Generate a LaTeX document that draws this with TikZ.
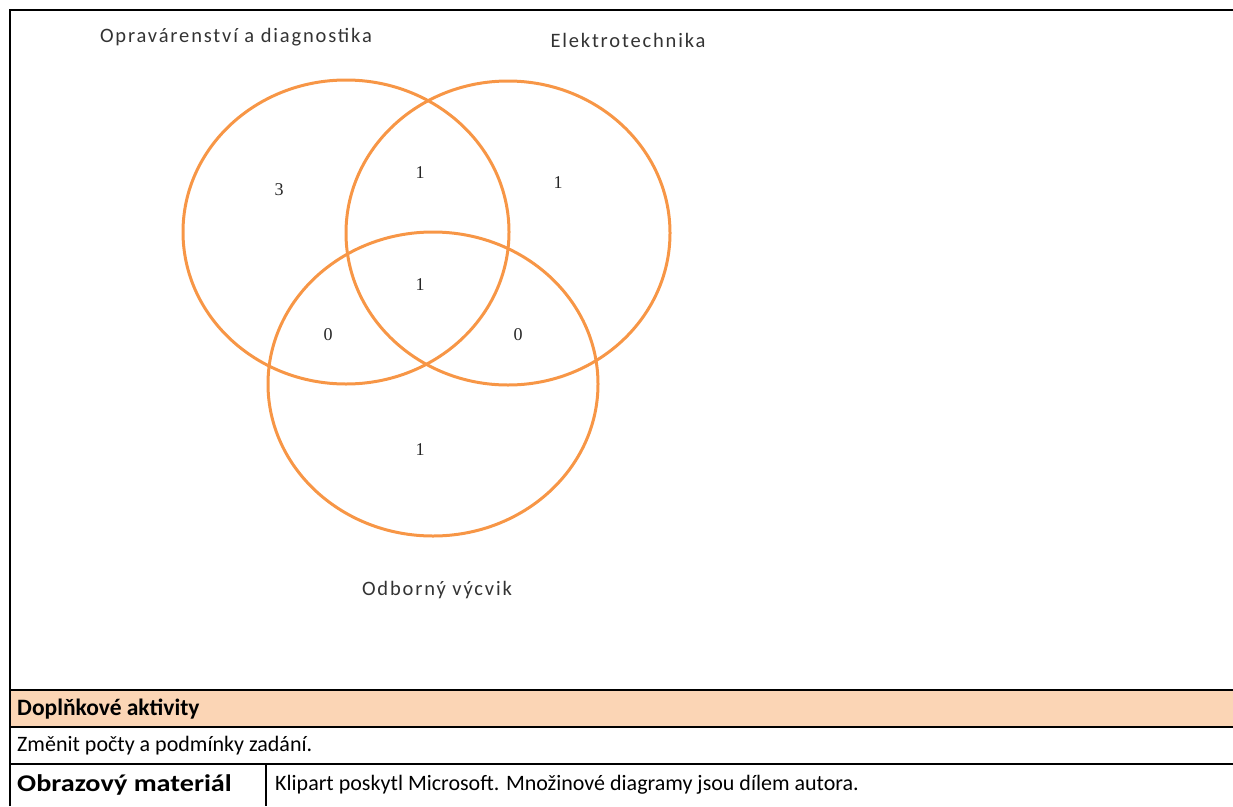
\documentclass[tikz,border=0pt]{standalone}
\usepackage{fontspec}
\usepackage{graphicx}
\setmainfont{Carlito}
\newfontfamily\vennfont[LetterSpace=9]{Carlito}
\newfontfamily\numfont{Liberation Serif}
\usetikzlibrary{positioning}
\definecolor{vorange}{HTML}{F79646}
\definecolor{rowfill}{HTML}{FBD5B5}
\tikzset{
  vcircle/.style={draw=vorange, line width=3pt},
  vlabel/.style={inner sep=0pt, font=\vennfont\fontsize{20.5}{24}\selectfont, text=black!80},
  vnum/.style={inner sep=0pt, font=\numfont\fontsize{18}{21}\selectfont, text=black!85},
  tline/.style={draw=black, line width=2.5pt},
  ttext/.style={inner sep=0pt, anchor=west, font=\fontsize{22}{26}\selectfont},
  tbold/.style={ttext, font=\bfseries\fontsize{23.5}{27}\selectfont}
}
\begin{document}
\begin{tikzpicture}[x=1pt,y=-1pt]
\useasboundingbox (0,0) rectangle (1233,806);
% orange row
\fill[rowfill] (10,690) rectangle (1233,727);
% table lines
\draw[tline] (10,806) -- (10,10) -- (1233,10);
\draw[tline] (10,690) -- (1233,690);
\draw[tline] (10,727) -- (1233,727);
\draw[tline] (10,764) -- (1233,764);
\draw[tline] (266,764) -- (266,806);
% circles
\draw[vcircle] (346,232) ellipse [x radius=163, y radius=152];
\draw[vcircle] (508,233) ellipse [x radius=162, y radius=152];
\draw[vcircle] (433,384) ellipse [x radius=165, y radius=152];
% labels
\node[vlabel] (lo) at (236,37) {Opravárenství a diagnostika};
\node[vlabel] (le) at (628,40) {Elektrotechnika};
\node[vlabel] (lv) at (437,590) {Odborný výcvik};
% numbers
\node[vnum] (n1) at (279,190) {3};
\node[vnum] (n2) at (420,173) {1};
\node[vnum] (n3) at (558,183) {1};
\node[vnum] (n4) at (420,285) {1};
\node[vnum] (n5) at (328,335) {0};
\node[vnum] (n6) at (518,335) {0};
\node[vnum] (n7) at (420,450) {1};
% table text
\node[tbold] (t1) at (17,709) {Doplňkové aktivity};
\node[ttext] (t2) at (17,746) {Změnit počty a podmínky zadání.};
\node[tbold] (t3) at (17,785) {\scalebox{1.2}[1.02]{Obrazový materiál}};
\node[ttext] (t4) at (275,785) {Klipart poskytl Microsoft. Množinové diagramy jsou dílem autora.};
\end{tikzpicture}
\end{document}
